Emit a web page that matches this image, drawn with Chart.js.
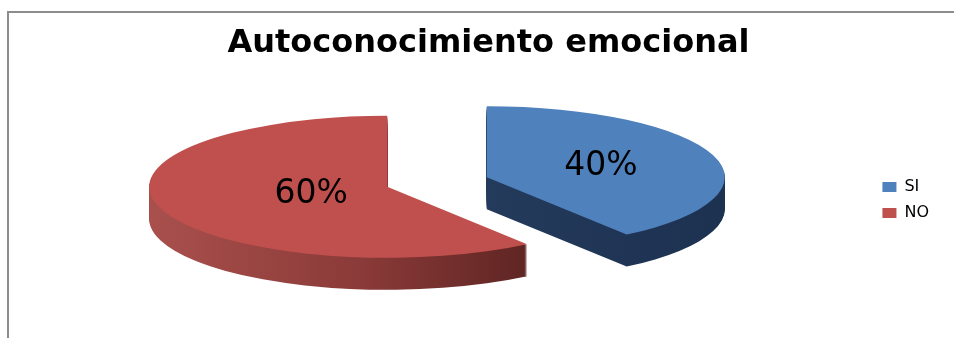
<!DOCTYPE html>
<html>
<head>
<meta charset="utf-8">
<script src="https://cdn.jsdelivr.net/npm/chart.js@4.4.0/dist/chart.umd.min.js"></script>
<style>
  html, body { margin: 0; padding: 0; background: #fff; overflow: hidden; }
  #wrap { position: relative; width: 954px; height: 338px; overflow: hidden; }
  .edge { position: absolute; background: #8c8c8c; }
  #edgeTop { left: 7px; top: 11px; width: 947px; height: 2px; }
  #edgeLeft { left: 7px; top: 11px; width: 2px; height: 327px; }
  #pie { position: absolute; left: 0; top: 0; }
</style>
</head>
<body>
<div id="wrap">
  <div class="edge" id="edgeTop"></div>
  <div class="edge" id="edgeLeft"></div>
  <canvas id="pie" width="954" height="338"></canvas>
</div>
<script>
const categories = ['SI', 'NO'];
const percentages = [40, 60];
const topColors = ['#4f81bd', '#c0504d'];

// tilted, exploded pie: ellipse centre/radii, explode distance (fraction of radius), wall height
const look = { cx: 437, cy: 182, rx: 238, ry: 71, explode: 0.22, depth: 32 };

function sideFill(ctx, arc, i) {
  const R = arc.outerRadius;
  const g = ctx.createLinearGradient(arc.x - R, 0, arc.x + R, 0);
  if (i === 0) {
    g.addColorStop(0, '#2a4468');
    g.addColorStop(1, '#1d3150');
  } else {
    g.addColorStop(0, '#a9504d');
    g.addColorStop(0.45, '#8a3a38');
    g.addColorStop(0.8, '#5e2523');
    g.addColorStop(1, '#4a1b1b');
  }
  return g;
}

const tiltedPie = {
  id: 'tiltedPie',
  beforeDatasetsDraw(chart) {
    const ctx = chart.ctx;
    const arcs = chart.getDatasetMeta(0).data;
    const R = arcs[0].outerRadius;
    const sx = look.rx / R, sy = look.ry / R;

    const place = (arc, drop) => {
      const mid = (arc.startAngle + arc.endAngle) / 2;
      ctx.translate(look.cx + Math.cos(mid) * look.explode * look.rx,
                    look.cy + Math.sin(mid) * look.explode * look.ry + drop);
      ctx.scale(sx, sy);
      ctx.translate(-arc.x, -arc.y);
    };

    const withFill = (arc, fill, fn) => {
      const saved = arc.options;
      arc.options = {
        backgroundColor: fill, borderColor: 'rgba(0,0,0,0)', borderWidth: 0,
        borderAlign: 'center', borderJoinStyle: 'round', borderDash: [], borderDashOffset: 0,
        offset: 0, spacing: 0, circular: true, borderRadius: 0
      };
      fn();
      arc.options = saved;
    };

    // walls: stack of shifted copies, drawn bottom-up
    arcs.forEach((arc, i) => {
      for (let d = look.depth; d >= 1; d--) {
        ctx.save();
        place(arc, d);
        withFill(arc, sideFill(ctx, arc, i), () => arc.draw(ctx));
        ctx.restore();
      }
    });

    // top faces
    arcs.forEach((arc, i) => {
      ctx.save();
      place(arc, 0);
      withFill(arc, topColors[i], () => arc.draw(ctx));
      ctx.restore();
    });

    // percentage labels at each sector's centroid
    const total = percentages.reduce((a, b) => a + b, 0);
    ctx.save();
    ctx.font = '33px "DejaVu Sans"';
    ctx.fillStyle = '#000';
    ctx.textAlign = 'center';
    ctx.textBaseline = 'middle';
    arcs.forEach((arc, i) => {
      const mid = (arc.startAngle + arc.endAngle) / 2;
      const half = (arc.endAngle - arc.startAngle) / 2;
      const k = look.explode + 2 * Math.sin(half) / (3 * half);
      const x = look.cx + Math.cos(mid) * k * look.rx;
      const y = look.cy + Math.sin(mid) * k * look.ry;
      ctx.fillText(Math.round(percentages[i] / total * 100) + '%', x, y);
    });
    ctx.restore();

    return false;
  }
};

new Chart(document.getElementById('pie').getContext('2d'), {
  type: 'pie',
  data: {
    labels: categories,
    datasets: [{
      data: percentages,
      backgroundColor: topColors,
      borderWidth: 0,
      offset: 0,
      hoverOffset: 0
    }]
  },
  options: {
    responsive: false,
    animation: false,
    devicePixelRatio: 1,
    layout: { padding: { left: 38, right: 15, bottom: -62 } },
    plugins: {
      title: {
        display: true,
        text: 'Autoconocimiento emocional',
        color: '#000',
        font: { family: 'DejaVu Sans', size: 32, weight: 'bold' },
        padding: { top: 24, bottom: 10 }
      },
      legend: {
        position: 'right',
        labels: {
          color: '#000',
          font: { family: 'DejaVu Sans', size: 16 },
          boxWidth: 14,
          boxHeight: 10,
          padding: 10
        }
      },
      tooltip: { enabled: false }
    }
  },
  plugins: [tiltedPie]
});
</script>
</body>
</html>
